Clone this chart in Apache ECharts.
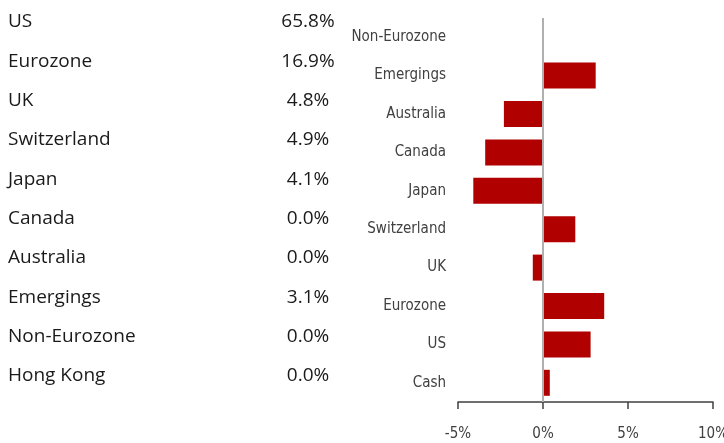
<!DOCTYPE html>
<html>
<head>
<meta charset="utf-8">
<script src="https://cdn.jsdelivr.net/npm/echarts@6/dist/echarts.min.js"></script>
<style>
  html, body { margin: 0; padding: 0; background: #fff; }
  #main { width: 724px; height: 443px; }
</style>
</head>
<body>
<div id="main"></div>
<script>
// left table: allocation
var tableNames = ['US', 'Eurozone', 'UK', 'Switzerland', 'Japan', 'Canada', 'Australia', 'Emergings', 'Non-Eurozone', 'Hong Kong'];
var tableValues = ['65.8%', '16.9%', '4.8%', '4.9%', '4.1%', '0.0%', '0.0%', '3.1%', '0.0%', '0.0%'];

// right bars: active weights, bottom to top
var barCategories = ['Cash', 'US', 'Eurozone', 'UK', 'Switzerland', 'Japan', 'Canada', 'Australia', 'Emergings', 'Non-Eurozone'];
var barValues = [0.4, 2.8, 3.6, -0.6, 1.9, -4.1, -3.4, -2.3, 3.1, 0];

var narrowFont = '"DejaVu Sans Condensed", sans-serif';
var tableFont = '"Open Sans", sans-serif';

var myChart = echarts.init(document.getElementById('main'));

// table rows as text
var graphics = [];
tableNames.forEach(function (name, i) {
    var y = 22 + i * 39.3;
    graphics.push({
        type: 'text', x: 8, y: y,
        style: { text: name, fontSize: 19, fontFamily: tableFont, fill: '#1a1a1a',
                 textAlign: 'left', textVerticalAlign: 'middle' }
    });
    graphics.push({
        type: 'text', x: 308, y: y,
        style: { text: tableValues[i], fontSize: 19, fontFamily: tableFont, fill: '#1a1a1a',
                 textAlign: 'center', textVerticalAlign: 'middle' }
    });
});

var option = {
    backgroundColor: '#ffffff',
    animation: false,
    graphic: graphics,
    grid: { left: 458, right: 11, top: 18, bottom: 41, containLabel: false, outerBoundsMode: 'none' },
    xAxis: {
        type: 'value',
        min: -5, max: 10, interval: 5,
        splitLine: { show: false },
        axisLine: { show: true, onZero: false, lineStyle: { color: '#404040', width: 1.5 } },
        axisTick: { show: true, length: 7, lineStyle: { color: '#404040', width: 1.5 } },
        axisLabel: { formatter: '{value}%', margin: 25, fontSize: 15, color: '#404040', fontFamily: narrowFont }
    },
    yAxis: {
        type: 'category',
        data: barCategories,
        axisLine: { show: false, onZero: false },
        axisTick: { show: false },
        axisLabel: { margin: 12, fontSize: 15, color: '#404040', fontFamily: narrowFont }
    },
    series: [{
        type: 'bar',
        data: barValues,
        barWidth: 26,
        itemStyle: { color: '#b00000' },
        markLine: {
            silent: true,
            symbol: 'none',
            label: { show: false },
            lineStyle: { color: '#b0b0b0', width: 2, type: 'solid' },
            data: [{ xAxis: 0 }]
        }
    }]
};
myChart.setOption(option);
</script>
</body>
</html>
